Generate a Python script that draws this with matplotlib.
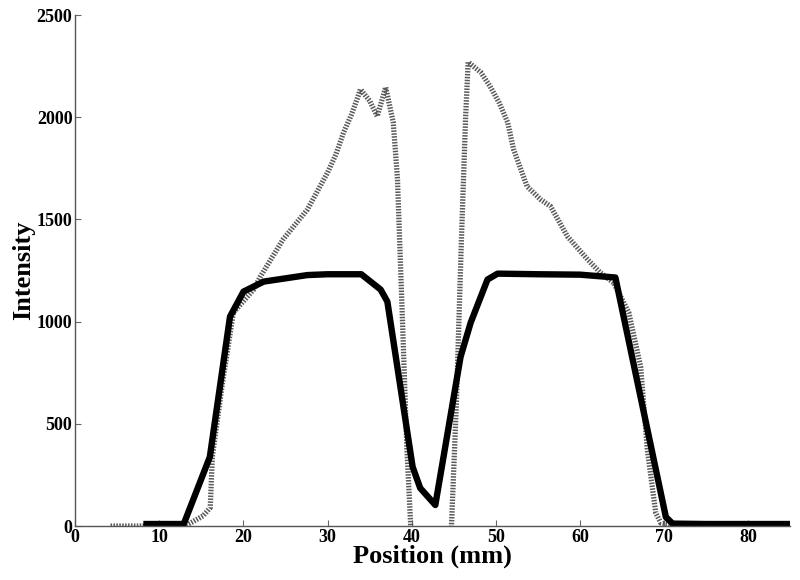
import matplotlib
matplotlib.use("Agg")
import matplotlib.pyplot as plt
import numpy as np

plt.rcParams['font.family'] = ['Liberation Serif', 'DejaVu Serif']
plt.rcParams['font.weight'] = 'bold'
plt.rcParams['lines.scale_dashes'] = False

# solid profile (black)
solid_x = [8.1, 12.9, 16.0, 18.4, 20.0, 22.4, 27.6, 30.0, 34.0, 36.3, 37.1,
           40.1, 41.0, 42.8, 45.8, 47.0, 49.0, 50.2, 55.0, 60.0, 64.2,
           70.2, 71.0, 75.0, 85.0]
solid_y = [10, 10, 338, 1025, 1147, 1196, 1228, 1232, 1232, 1157, 1098,
           290, 186, 103, 828, 995, 1206, 1235, 1232, 1230, 1216,
           44, 12, 10, 10]

# measured profile (grey, dotted); nan = no signal shown in the gap
meas_x = [4.2, 9.0, 13.0, 13.7, 15.2, 16.05, 16.3, 17.5, 18.8, 21.2, 22.0,
          24.7, 27.6, 30.0, 31.0, 31.9, 32.8, 33.5, 33.9, 35.0, 35.9, 36.9,
          37.8, 38.3, 38.9, 39.4, 39.9, 42.0, 44.7, 45.3, 45.9, 46.4, 46.7,
          48.2, 49.3, 50.4, 51.4, 52.1, 53.7, 55.3, 56.5, 58.5, 60.9, 62.4,
          64.0, 65.8, 67.2, 68.0, 69.0, 69.6, 72.0]
meas_y = [0, 0, 0, 15, 50, 90, 340, 700, 1044, 1157, 1220,
          1402, 1549, 1730, 1820, 1926, 2010, 2088, 2137, 2080, 2005, 2147,
          1975, 1700, 1000, 400, -20, np.nan, -20, 600, 1400, 2000, 2270,
          2220, 2152, 2070, 1975, 1843, 1662, 1598, 1564, 1417, 1304, 1240,
          1190, 1044, 780, 372, 64, 15, 0]

x_ticks = [0, 10, 20, 30, 40, 50, 60, 70, 80]
y_ticks = [0, 500, 1000, 1500, 2000, 2500]

fig = plt.figure(figsize=(8, 5.8), dpi=100)
ax = fig.add_axes([0.094, 0.093, 0.894, 0.881])

ax.plot(meas_x, meas_y, color='#5a5a5a', linewidth=3.8,
        dashes=(1.1, 1.0), dash_capstyle='butt', solid_joinstyle='round')
ax.plot(solid_x, solid_y, color='black', linewidth=4.6,
        solid_joinstyle='round', solid_capstyle='butt')

ax.set_xlim(0, 85)
ax.set_ylim(0, 2500)
ax.set_xticks(x_ticks)
ax.set_yticks(y_ticks)
ax.tick_params(direction='in', length=4, width=0.8, color='#666666',
               labelsize=13, pad=2)
for lab in ax.get_xticklabels() + ax.get_yticklabels():
    lab.set_fontweight('bold')

for s in ['top', 'right']:
    ax.spines[s].set_visible(False)
for s in ['left', 'bottom']:
    ax.spines[s].set_color('#555555')
    ax.spines[s].set_linewidth(1.0)

ax.set_xlabel('Position (mm)', fontsize=19, fontweight='bold', labelpad=-1)
ax.set_ylabel('Intensity', fontsize=19, fontweight='bold', labelpad=1)

fig.savefig('out.png', dpi=100)
